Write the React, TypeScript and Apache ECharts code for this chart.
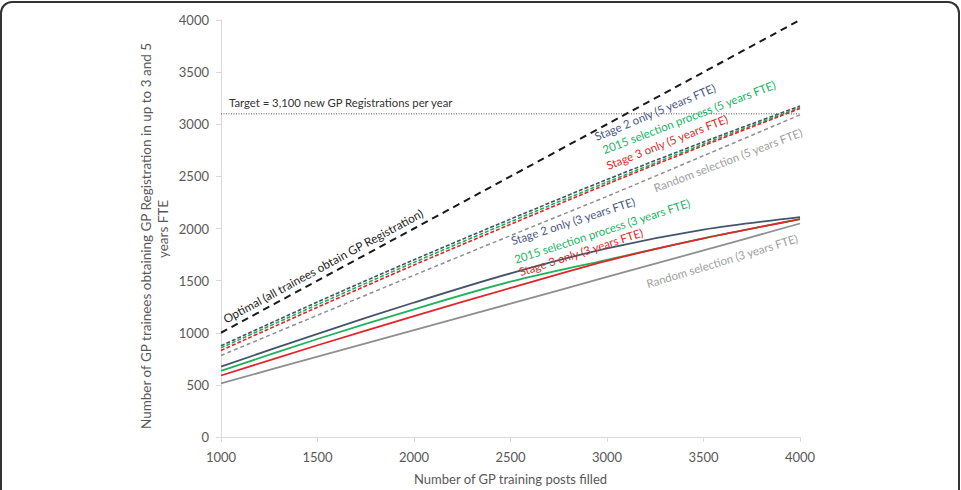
import React, { useEffect, useRef } from "react";
import * as echarts from "echarts";

const xPosts = [1000, 1500, 2000, 2500, 3000, 3500, 4000];
const xTicks = ["1000", "1500", "2000", "2500", "3000", "3500", "4000"];
const optimal = [1000, 1500, 2000, 2500, 3000, 3500, 4000];
const targetValue = 3100;
const stage2_5 = [875, 1295, 1700, 2090, 2470, 2830, 3175];
const sel2015_5 = [855, 1270, 1675, 2065, 2445, 2810, 3160];
const stage3_5 = [830, 1245, 1650, 2040, 2425, 2795, 3150];
const random_5 = [782, 1168, 1552, 1932, 2308, 2698, 3090];
const stage2_3 = [676, 990, 1290, 1570, 1810, 1990, 2110];
const sel2015_3 = [635, 940, 1225, 1490, 1700, 1905, 2090];
const stage3_3 = [590, 880, 1160, 1430, 1690, 1905, 2090];
const random_3 = [515, 770, 1025, 1280, 1535, 1790, 2048];

const NAVY = "#44546a";
const GREEN = "#1fb25a";
const RED = "#e3242b";
const GRAY = "#8f8f8f";
const FONT = "Lato, 'Open Sans', sans-serif";

const pairs = (ys: number[]) => xPosts.map((x, i) => [x, ys[i]]);

export default function App() {
  const ref = useRef<HTMLDivElement>(null);
  useEffect(() => {
    if (!ref.current) return;
    const chart = echarts.init(ref.current, null, { renderer: "svg" });
    const line = (name: string, ys: number[], color: string, width: number, type: any, z = 2) => ({
      name,
      type: "line",
      data: pairs(ys),
      smooth: 0.3,
      symbol: "none",
      z,
      lineStyle: { color, width, type },
    });
    const label = (text: string, x: number, y: number, deg: number, color: string, size = 11.5) => ({
      type: "text",
      x,
      y,
      rotation: (deg * Math.PI) / 180,
      style: { text, fill: color, font: `${size}px ${FONT}`, align: "center", verticalAlign: "middle" },
      z: 100,
    });
    chart.setOption({
      animation: false,
      textStyle: { fontFamily: FONT },
      grid: { left: 221, right: 161, top: 20, bottom: 50 },
      xAxis: {
        type: "value",
        min: 1000,
        max: 4000,
        interval: 500,
        name: "Number of GP training posts filled",
        nameLocation: "middle",
        nameGap: 35,
        nameTextStyle: { color: "#595959", fontSize: 13, fontFamily: FONT },
        axisLine: { show: true, lineStyle: { color: "#d9d9d9", width: 1 } },
        axisTick: { show: true, length: 5, lineStyle: { color: "#d9d9d9" } },
        splitLine: { show: false },
        axisLabel: {
          color: "#595959",
          fontSize: 13,
          margin: 13,
          fontFamily: FONT,
          formatter: (v: number) => xTicks[xPosts.indexOf(v)] ?? String(v),
        },
      },
      yAxis: {
        type: "value",
        min: 0,
        max: 4000,
        interval: 500,
        axisLine: { show: true, lineStyle: { color: "#d9d9d9", width: 1 } },
        axisTick: { show: true, length: 5, lineStyle: { color: "#d9d9d9" } },
        splitLine: { show: false },
        axisLabel: {
          color: "#595959",
          fontSize: 13,
          margin: 12,
          fontFamily: FONT,
          formatter: (v: number) => String(v),
        },
      },
      series: [
        {
          name: "Target",
          type: "line",
          data: [[1000, targetValue], [4000, targetValue]],
          symbol: "none",
          lineStyle: { color: "#555", width: 1, type: [1, 1.5] },
          z: 1,
        },
        line("Random selection (5 years FTE)", random_5, GRAY, 1.5, [4, 3]),
        line("Stage 2 only (5 years FTE)", stage2_5, NAVY, 1.6, [4, 2]),
        line("2015 selection process (5 years FTE)", sel2015_5, GREEN, 1.6, [4, 2]),
        line("Stage 3 only (5 years FTE)", stage3_5, RED, 1.6, [4, 2]),
        line("Random selection (3 years FTE)", random_3, GRAY, 1.8, "solid"),
        line("Stage 2 only (3 years FTE)", stage2_3, NAVY, 1.8, "solid"),
        line("2015 selection process (3 years FTE)", sel2015_3, GREEN, 1.8, "solid"),
        line("Stage 3 only (3 years FTE)", stage3_3, RED, 1.8, "solid"),
        line("Optimal (all trainees obtain GP Registration)", optimal, "#1a1a1a", 2, [7, 5], 3),
      ],
      graphic: [
        label("Number of GP trainees obtaining GP Registration in up to 3 and 5", 146, 236, 90, "#595959", 13.5),
        label("years FTE", 163, 229, 90, "#595959", 13.5),
        {
          type: "text",
          x: 229,
          y: 102,
          style: {
            text: "Target = 3,100 new GP Registrations per year",
            fill: "#333",
            font: `11.3px ${FONT}`,
            align: "left",
            verticalAlign: "middle",
          },
          z: 100,
        },
        label("Optimal (all trainees obtain GP Registration)", 323, 266, 28.5, "#262626", 11.8),
        label("Stage 2 only (5 years FTE)", 655, 112, 22.5, "#4a5785"),
        label("2015 selection process (5 years FTE)", 689, 117, 21, "#22b364"),
        label("Stage 3 only (5 years FTE)", 667, 142, 21.5, "#dd2a2a"),
        label("Random selection (5 years FTE)", 728, 160, 21, "#a0a0a0"),
        label("Stage 2 only (3 years FTE)", 573, 221, 18, "#4a5785"),
        label("2015 selection process (3 years FTE)", 602, 231, 18, "#22b364"),
        label("Stage 3 only (3 years FTE)", 581, 252, 18, "#dd2a2a"),
        label("Random selection (3 years FTE)", 722, 261, 17, "#a0a0a0"),
      ],
    });
    return () => chart.dispose();
  }, []);
  return (
    <div
      style={{
        position: "fixed",
        left: 0,
        top: 0,
        width: 961,
        height: 490,
        overflow: "hidden",
        background: "#fff",
      }}
    >
      <div ref={ref} style={{ position: "absolute", left: 0, top: 0, width: 961, height: 490 }} />
      <div
        style={{
          position: "absolute",
          left: 0,
          top: 1,
          width: 960,
          height: 600,
          boxSizing: "border-box",
          borderTop: "2.5px solid #333",
          borderLeft: "2.5px solid #333",
          borderRight: "2.5px solid #333",
          borderBottom: "none",
          borderRadius: "12px 12px 0 0",
          pointerEvents: "none",
        }}
      />
    </div>
  );
}
